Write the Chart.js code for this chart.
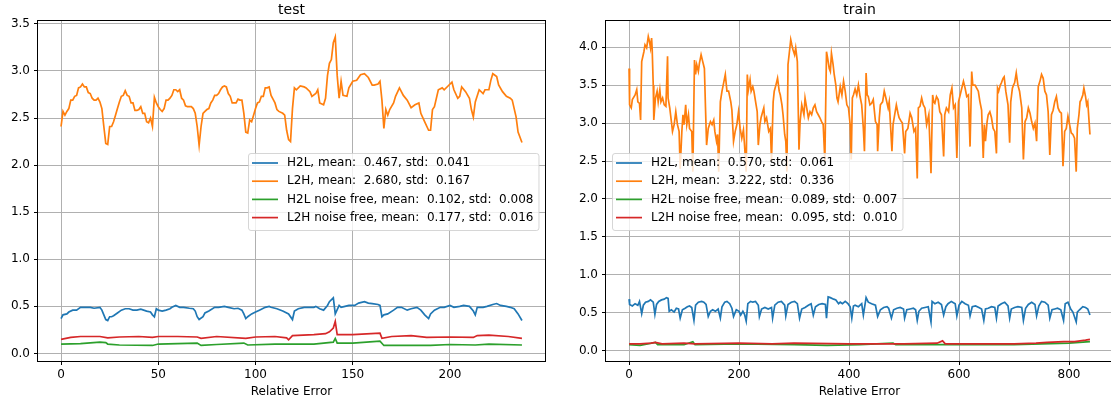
<!DOCTYPE html>
<html>
<head>
<meta charset="utf-8">
<script src="https://cdn.jsdelivr.net/npm/chart.js@4.4.1/dist/chart.umd.min.js"></script>
<style>
  html, body { margin: 0; padding: 0; background: #fff; overflow: hidden; width: 1111px; height: 402px; }
  canvas { position: absolute; top: 0; }
  #testChart { left: 0; }
  #trainChart { left: 560px; }
</style>
</head>
<body>
<canvas id="testChart" width="555" height="402"></canvas>
<canvas id="trainChart" width="560" height="402"></canvas>
<script>
// ---- data (x = sample index, y = value) ----
const testLabels = [
  "H2L, mean:  0.467, std:  0.041",
  "L2H, mean:  2.680, std:  0.167",
  "H2L noise free, mean:  0.102, std:  0.008",
  "L2H noise free, mean:  0.177, std:  0.016"
];
const trainLabels = [
  "H2L, mean:  0.570, std:  0.061",
  "L2H, mean:  3.222, std:  0.336",
  "H2L noise free, mean:  0.089, std:  0.007",
  "L2H noise free, mean:  0.095, std:  0.010"
];

const testXTicks = [0, 50, 100, 150, 200];
const testYTicks = [0, 0.5, 1, 1.5, 2, 2.5, 3, 3.5];
const trainXTicks = [0, 200, 400, 600, 800];
const trainYTicks = [0, 0.5, 1, 1.5, 2, 2.5, 3, 3.5, 4];

const testH2L = [[0,0.37],[1,0.41],[3,0.42],[4,0.44],[6,0.46],[8,0.46],[10,0.49],[12,0.49],[15,0.49],[17,0.48],
  [20,0.49],[21,0.46],[22,0.41],[23,0.36],[24,0.35],[25,0.39],[26,0.39],[27,0.40],[29,0.43],[31,0.46],
  [33,0.475],[35,0.475],[37,0.46],[39,0.46],[41,0.47],[44,0.45],[46,0.44],[47,0.41],[48,0.39],[49,0.475],
  [50,0.46],[52,0.45],[54,0.46],[56,0.475],[57,0.49],[59,0.51],[61,0.49],[63,0.49],[66,0.48],[68,0.475],
  [69,0.45],[70,0.39],[71,0.36],[73,0.39],[74,0.43],[76,0.45],[79,0.49],[81,0.49],[84,0.50],[86,0.49],
  [89,0.475],[91,0.48],[93,0.46],[94,0.42],[95,0.37],[96,0.39],[98,0.42],[100,0.44],[102,0.46],[105,0.49],
  [107,0.50],[108,0.49],[111,0.475],[114,0.45],[117,0.42],[119,0.36],[120,0.45],[122,0.475],[125,0.49],[127,0.49],
  [130,0.49],[131,0.50],[133,0.475],[135,0.46],[137,0.51],[138,0.55],[140,0.59],[141,0.42],[143,0.51],[144,0.49],
  [146,0.50],[148,0.51],[151,0.51],[153,0.535],[156,0.55],[158,0.535],[160,0.53],[163,0.52],[164,0.51],[165,0.39],
  [166,0.41],[168,0.42],[171,0.46],[173,0.49],[175,0.49],[178,0.46],[180,0.475],[183,0.49],[185,0.46],[187,0.41],
  [189,0.37],[190,0.42],[192,0.46],[195,0.49],[197,0.49],[200,0.51],[202,0.49],[205,0.50],[207,0.51],[210,0.50],
  [212,0.45],[213,0.41],[214,0.49],[217,0.49],[219,0.50],[222,0.52],[224,0.53],[226,0.51],[229,0.50],[231,0.49],
  [233,0.475],[235,0.42],[237,0.35]];

const testL2H = [[0,2.41],[1,2.57],[2,2.53],[3,2.57],[4,2.60],[5,2.69],[6,2.69],[7,2.73],[8,2.74],[9,2.82],
  [10,2.83],[11,2.86],[12,2.83],[13,2.83],[14,2.77],[15,2.76],[16,2.71],[17,2.69],[18,2.69],[19,2.71],
  [20,2.67],[21,2.60],[22,2.41],[23,2.23],[24,2.22],[25,2.41],[26,2.41],[27,2.46],[28,2.53],[29,2.60],
  [30,2.67],[31,2.73],[32,2.74],[33,2.79],[34,2.74],[35,2.73],[36,2.66],[37,2.66],[38,2.58],[39,2.58],
  [40,2.59],[41,2.62],[42,2.55],[43,2.55],[44,2.46],[45,2.45],[46,2.50],[47,2.41],[48,2.72],[49,2.66],
  [50,2.62],[51,2.59],[52,2.57],[53,2.60],[54,2.69],[55,2.69],[56,2.71],[57,2.74],[58,2.80],[59,2.80],
  [60,2.78],[61,2.80],[62,2.71],[63,2.69],[64,2.63],[65,2.62],[66,2.62],[67,2.62],[68,2.60],[69,2.55],
  [70,2.41],[71,2.21],[72,2.41],[73,2.55],[74,2.57],[75,2.59],[76,2.60],[77,2.66],[78,2.69],[79,2.74],
  [80,2.74],[81,2.76],[82,2.80],[83,2.83],[84,2.84],[85,2.83],[86,2.76],[87,2.73],[88,2.66],[89,2.66],
  [90,2.66],[91,2.70],[92,2.69],[93,2.69],[94,2.55],[95,2.35],[96,2.34],[97,2.48],[98,2.46],[99,2.53],
  [100,2.60],[101,2.66],[102,2.67],[103,2.73],[104,2.73],[105,2.82],[106,2.82],[107,2.83],[108,2.74],[109,2.70],
  [110,2.66],[111,2.59],[112,2.57],[114,2.55],[115,2.53],[116,2.37],[117,2.27],[118,2.25],[119,2.60],[120,2.82],
  [121,2.80],[123,2.84],[125,2.83],[126,2.82],[128,2.78],[129,2.73],[131,2.76],[132,2.80],[133,2.66],[135,2.64],
  [136,2.71],[137,2.95],[138,3.08],[139,3.12],[140,3.30],[141,3.36],[142,2.95],[143,2.71],[144,2.89],[145,2.74],
  [147,2.73],[148,2.82],[150,2.89],[152,2.90],[154,2.96],[156,2.97],[158,2.93],[160,2.85],[161,2.85],[163,2.86],
  [164,2.89],[165,2.69],[166,2.39],[167,2.59],[168,2.53],[169,2.59],[171,2.66],[172,2.73],[174,2.82],[176,2.74],
  [178,2.69],[180,2.61],[182,2.64],[184,2.66],[185,2.55],[187,2.46],[189,2.37],[190,2.37],[191,2.59],[192,2.62],
  [194,2.80],[196,2.82],[197,2.80],[199,2.84],[201,2.88],[202,2.80],[204,2.71],[205,2.73],[206,2.83],[208,2.78],
  [210,2.71],[211,2.59],[212,2.51],[213,2.67],[215,2.80],[217,2.76],[218,2.80],[220,2.80],[221,2.90],[222,2.97],
  [224,2.94],[225,2.85],[227,2.78],[229,2.73],[231,2.71],[232,2.69],[234,2.51],[235,2.35],[237,2.24]];

const testH2LFree = [[0,0.10],[10,0.105],[20,0.12],[23,0.115],[24,0.10],[30,0.09],[47,0.085],[50,0.10],[70,0.11],[72,0.085],
  [80,0.095],[94,0.11],[96,0.09],[110,0.10],[117,0.10],[130,0.10],[140,0.12],[141,0.16],[142,0.11],[150,0.11],
  [164,0.13],[166,0.085],[180,0.085],[190,0.085],[200,0.095],[213,0.09],[220,0.10],[237,0.09]];

const testL2HFree = [[0,0.15],[5,0.17],[10,0.18],[20,0.18],[24,0.165],[30,0.175],[40,0.18],[47,0.17],[50,0.18],[60,0.18],
  [70,0.175],[72,0.16],[80,0.18],[95,0.16],[100,0.175],[110,0.18],[116,0.165],[117,0.145],[119,0.19],[130,0.20],
  [136,0.21],[138,0.23],[140,0.27],[141,0.34],[142,0.20],[150,0.20],[164,0.215],[165,0.16],[170,0.18],[180,0.19],
  [188,0.17],[200,0.175],[212,0.17],[214,0.19],[220,0.195],[230,0.18],[237,0.16]];

const trainH2L = [[0,0.68],[1,0.61],[6,0.59],[11,0.62],[16,0.60],[19,0.65],[23,0.49],[26,0.60],[30,0.64],[35,0.65],
  [39,0.67],[44,0.64],[47,0.48],[50,0.61],[54,0.65],[59,0.67],[64,0.68],[68,0.70],[71,0.69],[73,0.52],
  [77,0.54],[82,0.51],[86,0.56],[90,0.55],[93,0.43],[97,0.54],[102,0.56],[106,0.58],[110,0.59],[114,0.57],
  [118,0.40],[121,0.60],[126,0.64],[132,0.65],[136,0.64],[140,0.61],[144,0.45],[148,0.52],[152,0.54],[157,0.52],
  [162,0.55],[166,0.43],[169,0.58],[174,0.64],[178,0.65],[183,0.62],[187,0.56],[190,0.45],[195,0.54],[200,0.52],
  [203,0.47],[207,0.52],[210,0.48],[213,0.39],[216,0.62],[221,0.65],[225,0.64],[230,0.65],[235,0.60],[237,0.45],
  [241,0.55],[247,0.57],[253,0.55],[259,0.57],[261,0.43],[265,0.60],[271,0.64],[277,0.65],[283,0.60],[285,0.46],
  [289,0.61],[295,0.64],[301,0.65],[306,0.62],[310,0.43],[314,0.55],[320,0.57],[326,0.60],[331,0.62],[335,0.47],
  [339,0.58],[345,0.61],[351,0.62],[357,0.61],[359,0.43],[362,0.71],[366,0.70],[372,0.68],[376,0.67],[381,0.62],
  [384,0.64],[388,0.62],[393,0.65],[398,0.62],[402,0.58],[405,0.43],[408,0.59],[411,0.60],[417,0.58],[423,0.62],
  [426,0.47],[431,0.70],[435,0.64],[441,0.62],[448,0.60],[452,0.45],[457,0.54],[463,0.57],[469,0.58],[472,0.56],
  [477,0.43],[481,0.54],[487,0.56],[493,0.57],[499,0.55],[501,0.43],[505,0.54],[511,0.55],[517,0.56],[521,0.54],
  [524,0.40],[527,0.52],[532,0.56],[538,0.57],[544,0.58],[549,0.38],[551,0.65],[556,0.62],[562,0.64],[568,0.61],
  [572,0.47],[576,0.58],[580,0.62],[586,0.65],[593,0.62],[596,0.46],[600,0.60],[605,0.65],[611,0.62],[617,0.60],
  [620,0.46],[624,0.58],[630,0.59],[636,0.57],[641,0.55],[645,0.40],[648,0.55],[653,0.56],[659,0.58],[665,0.57],
  [668,0.43],[671,0.59],[677,0.62],[683,0.64],[689,0.59],[692,0.43],[695,0.55],[701,0.57],[707,0.58],[714,0.57],
  [717,0.40],[721,0.56],[726,0.61],[732,0.64],[738,0.61],[741,0.46],[745,0.59],[750,0.65],[756,0.64],[762,0.60],
  [765,0.43],[769,0.54],[774,0.55],[779,0.56],[785,0.54],[790,0.40],[793,0.62],[798,0.64],[803,0.55],[807,0.51],
  [813,0.38],[815,0.51],[819,0.54],[825,0.58],[830,0.57],[834,0.55],[838,0.47]];

const trainL2H = [[0,3.72],[1,3.24],[4,3.20],[6,3.31],[11,3.37],[14,3.44],[16,3.28],[19,3.26],[21,3.04],[23,3.81],
  [27,3.94],[29,4.03],[32,3.99],[35,4.14],[37,4.08],[39,3.99],[41,4.12],[42,3.99],[44,3.50],[45,3.04],
  [48,3.33],[51,3.42],[53,3.28],[56,3.44],[58,3.28],[61,3.33],[64,3.24],[67,3.22],[70,3.88],[71,3.33],
  [74,3.20],[77,3.02],[79,2.89],[82,2.98],[85,3.15],[88,2.98],[91,2.89],[93,2.40],[96,2.89],[98,3.11],
  [100,2.98],[103,3.24],[105,2.98],[108,3.11],[110,2.93],[114,2.89],[116,2.36],[119,3.83],[121,3.64],[123,3.77],
  [126,3.68],[128,3.79],[131,3.90],[134,3.81],[137,3.72],[139,3.20],[141,2.71],[144,2.93],[148,3.02],[151,2.98],
  [154,3.04],[156,2.89],[159,2.76],[161,2.85],[163,2.36],[166,3.28],[169,3.42],[172,3.53],[175,3.64],[178,3.42],
  [181,3.42],[185,3.28],[187,3.17],[190,2.76],[193,2.89],[196,2.98],[199,3.15],[202,2.93],[205,2.80],[208,2.91],
  [210,2.71],[213,2.36],[215,3.64],[217,3.44],[220,3.57],[222,3.42],[225,3.48],[227,3.42],[231,3.24],[233,3.15],
  [235,2.71],[238,2.98],[240,3.07],[243,3.15],[245,3.20],[247,3.02],[250,3.07],[254,2.89],[257,2.93],[259,2.50],
  [262,3.28],[264,3.42],[267,3.50],[270,3.59],[273,3.42],[275,3.37],[278,3.24],[280,3.11],[283,2.85],[285,2.76],
  [287,2.36],[289,3.77],[291,3.90],[294,4.10],[296,4.03],[298,3.97],[301,3.90],[303,3.99],[306,3.81],[309,2.65],
  [311,3.02],[314,3.24],[318,3.11],[320,3.33],[323,3.20],[326,3.07],[329,3.15],[332,3.11],[335,3.20],[338,3.24],
  [341,3.15],[344,3.11],[347,3.07],[350,3.02],[353,2.98],[356,2.50],[359,3.94],[361,3.86],[364,3.72],[366,3.68],
  [368,3.92],[371,3.77],[373,3.64],[376,3.50],[378,3.33],[380,3.28],[384,3.48],[387,3.37],[390,3.55],[393,3.42],
  [396,3.24],[399,3.20],[402,2.98],[404,2.52],[406,3.33],[408,3.37],[411,3.45],[414,3.37],[417,3.50],[420,3.35],
  [423,3.24],[426,2.93],[428,2.63],[431,3.66],[433,3.37],[435,3.35],[438,3.24],[441,3.26],[444,3.31],[448,3.02],
  [451,2.98],[452,2.63],[455,3.07],[457,3.24],[461,3.28],[464,3.42],[467,3.33],[471,3.20],[473,3.28],[475,3.02],
  [478,2.63],[480,2.98],[483,3.11],[486,3.24],[489,3.13],[491,3.07],[495,3.02],[497,3.00],[501,2.60],[503,2.89],
  [507,2.93],[511,3.13],[514,3.07],[518,2.89],[521,2.93],[524,2.27],[526,3.20],[529,3.22],[532,3.33],[535,3.24],
  [538,3.20],[541,2.98],[545,3.11],[549,2.34],[552,3.37],[554,3.28],[556,3.26],[559,3.35],[562,3.31],[565,3.15],
  [568,3.11],[572,2.56],[574,3.11],[577,3.20],[581,3.15],[584,3.37],[587,3.46],[590,3.20],[593,3.24],[596,2.54],
  [599,3.28],[602,3.37],[605,3.46],[608,3.55],[611,3.46],[614,3.35],[617,3.37],[620,2.69],[623,3.68],[625,3.50],
  [629,3.50],[632,3.46],[635,3.42],[638,3.28],[641,3.17],[644,2.54],[646,2.98],[648,2.76],[651,3.02],[653,3.11],
  [656,3.15],[659,3.07],[662,2.93],[665,2.89],[668,2.60],[670,3.46],[672,3.42],[675,3.50],[677,3.53],[680,3.59],
  [682,3.61],[685,3.42],[687,3.33],[689,3.24],[692,2.74],[694,3.28],[697,3.46],[699,3.50],[701,3.53],[704,3.66],
  [707,3.50],[710,3.42],[714,3.20],[717,2.52],[720,3.02],[723,3.07],[726,3.20],[729,3.13],[732,3.02],[735,2.93],
  [738,3.00],[741,2.76],[744,3.48],[747,3.55],[750,3.64],[753,3.59],[756,3.42],[759,3.37],[762,3.15],[765,2.58],
  [768,3.11],[771,3.17],[774,3.28],[777,3.35],[780,3.20],[783,3.15],[786,3.13],[789,2.43],[792,2.89],[795,2.93],
  [798,3.09],[801,2.98],[804,2.87],[807,2.85],[810,2.80],[813,2.36],[815,2.93],[818,3.11],[820,3.28],[822,3.31],
  [825,3.37],[827,3.46],[830,3.35],[832,3.24],[834,3.28],[838,2.85]];

const trainH2LFree = [[0,0.08],[20,0.07],[48,0.11],[52,0.08],[100,0.08],[116,0.12],[120,0.08],[200,0.09],[300,0.08],[360,0.07],
  [420,0.08],[480,0.10],[485,0.08],[560,0.08],[620,0.08],[700,0.08],[750,0.09],[800,0.10],[838,0.12]];

const trainL2HFree = [[0,0.09],[20,0.09],[40,0.10],[48,0.11],[60,0.09],[100,0.10],[120,0.09],[200,0.10],[260,0.09],[300,0.10],
  [400,0.09],[460,0.09],[500,0.09],[560,0.10],[570,0.13],[575,0.09],[650,0.09],[700,0.09],[740,0.10],[760,0.11],
  [790,0.12],[810,0.12],[830,0.14],[838,0.15]];

const COLORS = ["#1f77b4", "#ff7f0e", "#2ca02c", "#d62728"];
const FAMILY = '"DejaVu Sans", sans-serif';

// spines, title, x label and the in-axes legend, drawn matplotlib style
const decor = {
  id: "decor",
  afterDraw(chart, args, o) {
    const { ctx, chartArea: a } = chart;
    ctx.save();
    ctx.strokeStyle = "#000";
    ctx.lineWidth = 1;
    ctx.strokeRect(a.left - 0.5, a.top - 0.5, a.right - a.left + 1, a.bottom - a.top + 1);

    const cx = (a.left + a.right) / 2;
    ctx.fillStyle = "#000";
    ctx.textAlign = "center";
    ctx.textBaseline = "alphabetic";
    ctx.font = "14px " + FAMILY;
    ctx.fillText(o.title, cx, a.top - 7.5);
    ctx.font = "12px " + FAMILY;
    ctx.fillText(o.xlabel, cx, a.bottom + 34);

    // legend
    const ds = chart.data.datasets;
    const tw = Math.max(...ds.map(d => ctx.measureText(d.label).width));
    const w = 4 + 26 + 9 + tw + 5, h = 77;
    const x0 = Math.round(o.legendSide === "right" ? a.right - 7 - w : a.left + 6);
    const y0 = Math.round((a.top + a.bottom) / 2 - h / 2);
    ctx.beginPath();
    ctx.roundRect(x0 + 0.5, y0 + 0.5, w, h, 2.5);
    ctx.fillStyle = "rgba(255,255,255,0.8)";
    ctx.fill();
    ctx.strokeStyle = "rgba(204,204,204,0.8)";
    ctx.stroke();
    ds.forEach((d, i) => {
      const y = y0 + 10 + i * 18.2;
      ctx.strokeStyle = d.borderColor;
      ctx.lineWidth = 1.7;
      ctx.beginPath();
      ctx.moveTo(x0 + 4, y);
      ctx.lineTo(x0 + 30, y);
      ctx.stroke();
      ctx.fillStyle = "#000";
      ctx.textAlign = "left";
      ctx.textBaseline = "middle";
      ctx.fillText(d.label, x0 + 39, y);
    });
    ctx.restore();
  }
};

function line(label, pts, color, order) {
  return {
    label,
    data: pts.map(p => ({ x: p[0], y: p[1] })),
    borderColor: color,
    borderWidth: 1.7,
    pointRadius: 0,
    fill: false,
    tension: 0,
    order
  };
}

function axis(min, max, ticks, fmt, fit, pad) {
  return {
    type: "linear",
    min, max,
    afterBuildTicks: s => { s.ticks = ticks.map(v => ({ value: v })); },
    afterFit: fit,
    grid: { color: "#b0b0b0", lineWidth: 1, drawTicks: true, tickLength: 4, tickColor: "#000", tickWidth: 1 },
    border: { display: false },
    ticks: {
      color: "#000",
      font: { family: FAMILY, size: 12 },
      padding: pad,
      maxRotation: 0,
      autoSkip: false,
      callback: v => fmt(v)
    }
  };
}

function makeChart(id, labels, series, xr, yr, xTicks, yTicks, yWidth, padRight, title, side) {
  return new Chart(document.getElementById(id), {
    type: "line",
    data: {
      datasets: series.map((pts, i) => line(labels[i], pts, COLORS[i], 4 - i))
    },
    options: {
      responsive: false,
      animation: false,
      devicePixelRatio: 1,
      layout: { padding: { top: 21, right: padRight, bottom: 0, left: 0 } },
      scales: {
        x: axis(xr[0], xr[1], xTicks, v => String(v), s => { s.height = 41; }, 3),
        y: axis(yr[0], yr[1], yTicks, v => v.toFixed(1), s => { s.width = yWidth; }, 4)
      },
      plugins: {
        legend: { display: false },
        tooltip: { enabled: false },
        decor: { title, xlabel: "Relative Error", legendSide: side }
      }
    },
    plugins: [decor]
  });
}

makeChart("testChart", testLabels, [testH2L, testL2H, testH2LFree, testL2HFree],
  [-11.85, 248.85], [-0.08, 3.53], testXTicks, testYTicks, 38, 10, "test", "right");
makeChart("trainChart", trainLabels, [trainH2L, trainL2H, trainH2LFree, trainL2HFree],
  [-41.9, 879.9], [-0.135, 4.345], trainXTicks, trainYTicks, 46, 7, "train", "left");
</script>
</body>
</html>
